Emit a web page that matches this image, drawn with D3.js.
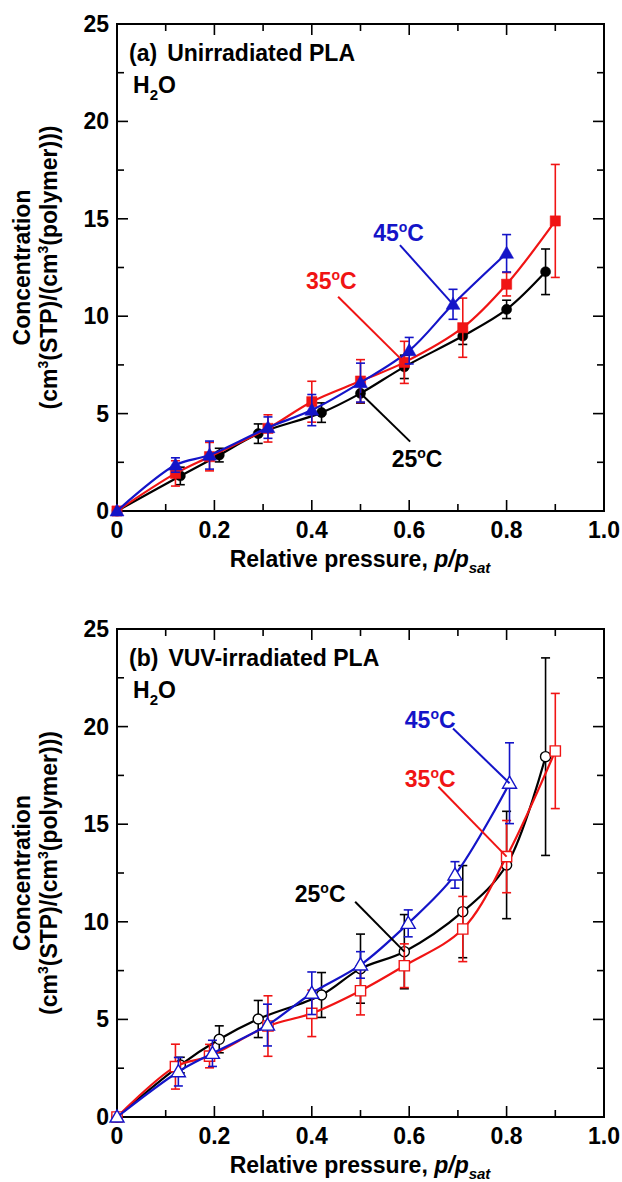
<!DOCTYPE html>
<html>
<head>
<meta charset="utf-8">
<script src="https://cdn.jsdelivr.net/npm/d3@7"></script>
<style>
  body { margin: 0; background: #fff; }
  svg { display: block; }
  text { font-family: "Liberation Sans", Arial, sans-serif; font-weight: bold; fill: #000; }
</style>
</head>
<body>
<svg id="chart" width="622" height="1182"></svg>
<script>
// ---- Axis ticks ----
const xMajorTicks = [0, 0.2, 0.4, 0.6, 0.8, 1.0];
const xTickLabels = ["0", "0.2", "0.4", "0.6", "0.8", "1.0"];
const xMinorTicks = [0.1, 0.3, 0.5, 0.7, 0.9];
const yMajorTicks = [0, 5, 10, 15, 20, 25];
const yTickLabels = ["0", "5", "10", "15", "20", "25"];
const yMinorTicks = [2.5, 7.5, 12.5, 17.5, 22.5];

// ---- (a) Unirradiated PLA, H2O sorption ----
const a25p = [0, 0.13, 0.21, 0.29, 0.42, 0.50, 0.59, 0.71, 0.80, 0.88];
const a25c = [0, 1.80, 2.87, 3.97, 5.05, 6.04, 7.40, 8.98, 10.35, 12.28];
const a25e = [0, 0.45, 0.35, 0.50, 0.50, 0.50, 0.60, 0.43, 0.47, 1.17];

const a35p = [0, 0.12, 0.19, 0.31, 0.40, 0.50, 0.59, 0.71, 0.80, 0.90];
const a35c = [0, 1.93, 2.79, 4.24, 5.61, 6.67, 7.63, 9.41, 11.64, 14.89];
const a35e = [0, 0.65, 0.73, 0.70, 1.05, 1.10, 1.08, 1.52, 0.60, 2.90];

const a45p = [0, 0.12, 0.19, 0.31, 0.40, 0.50, 0.60, 0.69, 0.80];
const a45c = [0, 2.36, 2.87, 4.28, 5.18, 6.59, 8.23, 10.61, 13.23];
const a45e = [0, 0.37, 0.72, 0.55, 0.80, 1.00, 0.68, 0.77, 0.96];

// ---- (b) VUV-irradiated PLA, H2O sorption ----
const b25p = [0, 0.13, 0.21, 0.29, 0.42, 0.50, 0.59, 0.71, 0.80, 0.88];
const b25c = [0, 2.66, 3.98, 5.02, 6.25, 7.60, 8.47, 10.52, 12.91, 18.46];
const b25e = [0, 0.40, 0.69, 0.95, 1.15, 1.77, 1.90, 2.36, 2.75, 5.06];

const b35p = [0, 0.12, 0.19, 0.31, 0.40, 0.50, 0.59, 0.71, 0.80, 0.90];
const b35c = [0, 2.58, 3.12, 4.66, 5.31, 6.47, 7.75, 9.63, 13.34, 18.75];
const b35e = [0, 1.15, 0.60, 1.55, 1.19, 1.24, 1.12, 1.67, 1.85, 2.95];

const b45p = [0, 0.126, 0.196, 0.309, 0.40, 0.50, 0.598, 0.694, 0.806];
const b45c = [0, 2.32, 3.26, 4.71, 6.34, 7.79, 9.92, 12.40, 17.10];
const b45e = [0, 0.73, 0.67, 1.07, 1.09, 0.68, 0.69, 0.68, 2.07];

const temps = ["25", "35", "45"];

// ---- styling ----
const COLORS = { "25": "#000000", "35": "#f01414", "45": "#1414c8" };
const SHAPES = { "25": "circle", "35": "square", "45": "triangle" };
const FONT = 23;

const svg = d3.select("#chart");

function zip(p, c, e) { return p.map((v, i) => ({ p: v, c: c[i], e: e[i] })); }

function markerPath(shape, size) {
  const sym = shape === "circle" ? d3.symbolCircle : shape === "square" ? d3.symbolSquare : d3.symbolTriangle;
  return d3.symbol().type(sym).size(size)();
}
const MARKER_SIZE = { circle: 80, square: 105, triangle: 85 };

function drawPanel(cfg) {
  const x = d3.scaleLinear().domain([0, 1]).range([117, 604]);
  const y = d3.scaleLinear().domain([0, 25]).range([cfg.bottom, cfg.top]);
  const g = svg.append("g");

  // inward ticks on every side
  const tickLayer = g.append("g").attr("stroke", "#000").attr("stroke-width", 1.6);
  const MAJ = 11, MIN = 7;
  [[xMajorTicks, MAJ], [xMinorTicks, MIN]].forEach(([ts, len]) => {
    ts.forEach(t => {
      tickLayer.append("line").attr("x1", x(t)).attr("x2", x(t)).attr("y1", y(0)).attr("y2", y(0) - len);
      tickLayer.append("line").attr("x1", x(t)).attr("x2", x(t)).attr("y1", y(25)).attr("y2", y(25) + len);
    });
  });
  [[yMajorTicks, MAJ], [yMinorTicks, MIN]].forEach(([ts, len]) => {
    ts.forEach(t => {
      tickLayer.append("line").attr("y1", y(t)).attr("y2", y(t)).attr("x1", x(0)).attr("x2", x(0) + len);
      tickLayer.append("line").attr("y1", y(t)).attr("y2", y(t)).attr("x1", x(1)).attr("x2", x(1) - len);
    });
  });

  // frame
  g.append("rect").attr("x", x(0)).attr("y", y(25)).attr("width", x(1) - x(0)).attr("height", y(0) - y(25))
    .attr("fill", "none").attr("stroke", "#000").attr("stroke-width", 2);

  // tick labels
  xMajorTicks.forEach((t, i) => {
    g.append("text").attr("x", x(t)).attr("y", y(0) + 27).attr("text-anchor", "middle")
      .attr("font-size", FONT).text(xTickLabels[i]);
  });
  yMajorTicks.forEach((t, i) => {
    g.append("text").attr("x", x(0) - 8).attr("y", y(t) + 8).attr("text-anchor", "end")
      .attr("font-size", FONT).text(yTickLabels[i]);
  });

  // x axis title
  const xt = g.append("text").attr("x", 360).attr("y", y(0) + 56).attr("text-anchor", "middle").attr("font-size", FONT);
  xt.append("tspan").text("Relative pressure, ");
  xt.append("tspan").attr("font-style", "italic").text("p/p");
  xt.append("tspan").attr("font-style", "italic").attr("font-size", 15).attr("dy", 6).text("sat");

  // y axis title (two lines)
  const ymid = (cfg.top + cfg.bottom) / 2;
  g.append("text").attr("transform", `translate(30,${ymid}) rotate(-90)`).attr("text-anchor", "middle")
    .attr("font-size", FONT).text("Concentration");
  const yt = g.append("text").attr("transform", `translate(57,${ymid}) rotate(-90)`).attr("text-anchor", "middle")
    .attr("font-size", FONT);
  yt.append("tspan").text("(cm");
  yt.append("tspan").attr("font-size", 14).attr("dy", -9).text("3");
  yt.append("tspan").attr("dy", 9).text("(STP)/(cm");
  yt.append("tspan").attr("font-size", 14).attr("dy", -9).text("3");
  yt.append("tspan").attr("dy", 9).text("(polymer)))");

  // panel title and gas label
  const tt = g.append("text").attr("x", 129).attr("y", cfg.top + 37).attr("font-size", FONT);
  tt.append("tspan").text(cfg.tag);
  tt.append("tspan").attr("dx", 10).text(cfg.title);
  const gas = g.append("text").attr("x", 133).attr("y", cfg.top + 69).attr("font-size", FONT);
  gas.append("tspan").text("H");
  gas.append("tspan").attr("font-size", 15).attr("dy", 7).text("2");
  gas.append("tspan").attr("dy", -7).text("O");

  // series: curves, error bars, markers
  const line = d3.line().x(d => x(d.p)).y(d => y(d.c)).curve(d3.curveCatmullRom.alpha(0.5));
  temps.forEach(t => {
    const data = cfg.series[t];
    const col = COLORS[t];
    const sg = g.append("g");
    sg.append("path").attr("d", line(data)).attr("fill", "none").attr("stroke", col).attr("stroke-width", 2.2);
    const eb = sg.append("g").attr("stroke", col).attr("stroke-width", 1.6);
    data.filter(d => d.e > 0).forEach(d => {
      eb.append("line").attr("x1", x(d.p)).attr("x2", x(d.p)).attr("y1", y(d.c - d.e)).attr("y2", y(d.c + d.e));
      eb.append("line").attr("x1", x(d.p) - 4.5).attr("x2", x(d.p) + 4.5).attr("y1", y(d.c - d.e)).attr("y2", y(d.c - d.e));
      eb.append("line").attr("x1", x(d.p) - 4.5).attr("x2", x(d.p) + 4.5).attr("y1", y(d.c + d.e)).attr("y2", y(d.c + d.e));
    });
    const shape = SHAPES[t];
    sg.selectAll("path.m").data(data).join("path").attr("class", "m")
      .attr("d", markerPath(shape, MARKER_SIZE[shape]))
      .attr("transform", d => `translate(${x(d.p)},${y(d.c) + (shape === "triangle" ? 1 : 0)})`)
      .attr("fill", cfg.filled ? col : "#fff")
      .attr("stroke", col).attr("stroke-width", cfg.filled ? 0.5 : 1.4);
  });

  // temperature labels with leader lines to a data point
  cfg.labels.forEach(l => {
    const col = COLORS[l.t];
    const target = cfg.series[l.t][l.idx];
    g.append("line").attr("x1", x(l.lx)).attr("y1", y(l.ly)).attr("x2", x(target.p)).attr("y2", y(target.c))
      .attr("stroke", col).attr("stroke-width", 2);
    const tx = g.append("text").attr("x", x(l.tx)).attr("y", y(l.ty)).attr("font-size", FONT).style("fill", col);
    tx.append("tspan").text(l.t);
    tx.append("tspan").attr("font-size", 14).attr("dy", -9).text("o");
    tx.append("tspan").attr("dy", 9).text("C");
  });
}

drawPanel({
  top: 24, bottom: 511, tag: "(a)", title: "Unirradiated PLA", filled: true,
  series: { "25": zip(a25p, a25c, a25e), "35": zip(a35p, a35c, a35e), "45": zip(a45p, a45c, a45e) },
  labels: [
    { t: "45", tx: 0.526, ty: 13.88, lx: 0.581, ly: 13.65, idx: 7 },
    { t: "35", tx: 0.388, ty: 11.38, lx: 0.454, ly: 11.0, idx: 6 },
    { t: "25", tx: 0.564, ty: 2.27, lx: 0.602, ly: 3.56, idx: 5 }
  ]
});

drawPanel({
  top: 629, bottom: 1117, tag: "(b)", title: "VUV-irradiated PLA", filled: false,
  series: { "25": zip(b25p, b25c, b25e), "35": zip(b35p, b35c, b35e), "45": zip(b45p, b45c, b45e) },
  labels: [
    { t: "45", tx: 0.591, ty: 19.93, lx: 0.690, ly: 19.9, idx: 8 },
    { t: "35", tx: 0.591, ty: 16.92, lx: 0.660, ly: 16.92, idx: 8 },
    { t: "25", tx: 0.365, ty: 11.03, lx: 0.489, ly: 11.03, idx: 6 }
  ]
});
</script>
</body>
</html>
